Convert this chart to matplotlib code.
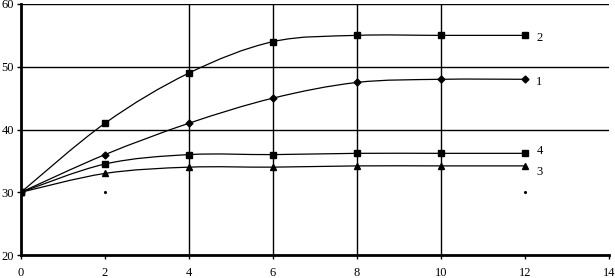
import matplotlib
matplotlib.use("Agg")
import matplotlib.pyplot as plt
from matplotlib.path import Path
from matplotlib.patches import PathPatch
import numpy as np

x = [0, 2, 4, 6, 8, 10, 12]
s1 = [30, 36, 41, 45, 47.5, 48, 48]
s2 = [30, 41, 49, 54, 55, 55, 55]
s3 = [30, 33, 34, 34, 34.2, 34.2, 34.2]
s4 = [30, 34.5, 36, 36, 36.2, 36.2, 36.2]
labels = ["1", "2", "3", "4"]
label_y = [47.6, 54.6, 33.2, 36.5]
xticks = [0, 2, 4, 6, 8, 10, 12, 14]
yticks = [20, 30, 40, 50, 60]

plt.rcParams['font.family'] = ['Liberation Serif', 'DejaVu Serif']

fig = plt.figure(figsize=(6.15, 2.78), dpi=100)
ax = fig.add_axes([21/615, 23/278, 588/615, 251/278])
ax.set_xlim(0, 14)
ax.set_ylim(20, 60)


def smooth_path(xs, ys):
    xs = np.asarray(xs, float); ys = np.asarray(ys, float)
    n = len(xs)
    verts = [(xs[0], ys[0])]
    codes = [Path.MOVETO]
    for i in range(n - 1):
        p0 = np.array([xs[max(i-1, 0)], ys[max(i-1, 0)]])
        p1 = np.array([xs[i], ys[i]])
        p2 = np.array([xs[i+1], ys[i+1]])
        p3 = np.array([xs[min(i+2, n-1)], ys[min(i+2, n-1)]])
        c1 = p1 + (p2 - p0) / 6.0
        c2 = p2 - (p3 - p1) / 6.0
        verts += [tuple(c1), tuple(c2), tuple(p2)]
        codes += [Path.CURVE4] * 3
    return Path(verts, codes)


series = [(s1, 'D', 3.5), (s2, 's', 5), (s3, '^', 4.5), (s4, 's', 5)]
for (ys, mk, ms), lab, ly in zip(series, labels, label_y):
    ax.add_patch(PathPatch(smooth_path(x, ys), fill=False, edgecolor='black', lw=0.9, zorder=3))
    ax.plot(x, ys, linestyle='none', marker=mk, ms=ms, color='black', zorder=4)
    ax.text(12.27, ly, lab, fontsize=9, va='center', ha='left')

# small stray dots present in the reference
ax.plot([2, 12], [30, 30], linestyle='none', marker='o', ms=1.2, color='black')

for yv in [40, 50, 60]:
    ax.axhline(yv, color='black', lw=1, zorder=1)
for xv in [4, 6, 8, 10]:
    ax.axvline(xv, color='black', lw=1, zorder=1)

ax.set_xticks(xticks)
ax.set_yticks(yticks)
ax.tick_params(labelsize=9, length=3, width=1, direction='out')
ax.tick_params(axis='x', pad=6)
ax.tick_params(axis='y', pad=2)
for sp in ['top', 'right']:
    ax.spines[sp].set_visible(False)
ax.spines['left'].set_linewidth(2)
ax.spines['bottom'].set_linewidth(2)

fig.savefig("out.png", dpi=100)
